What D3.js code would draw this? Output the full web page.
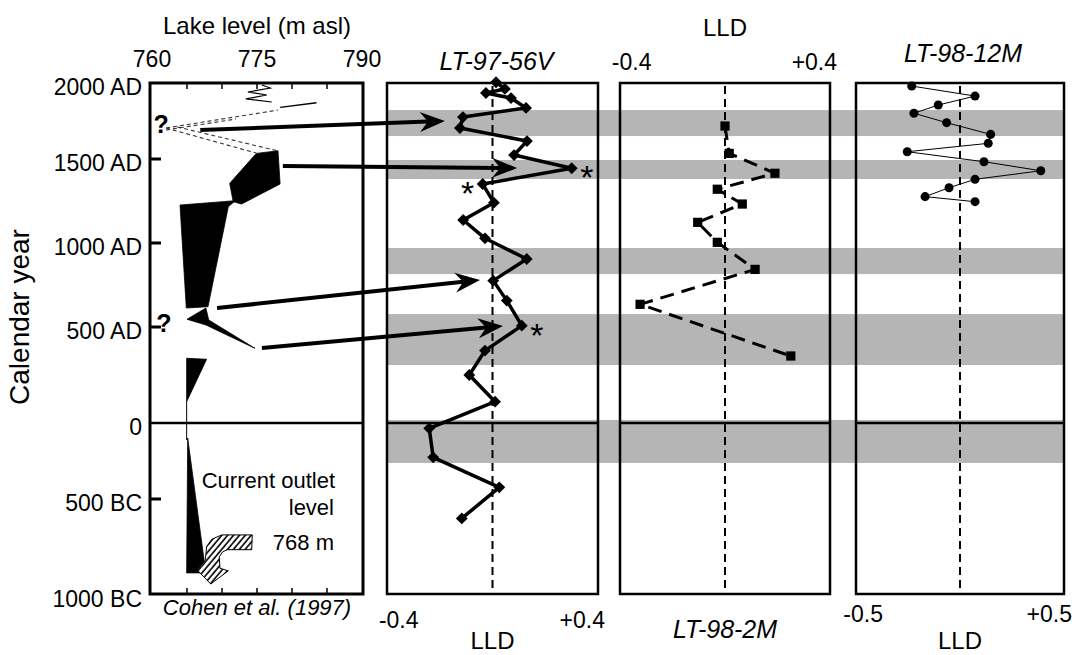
<!DOCTYPE html>
<html><head><meta charset="utf-8">
<script src="https://cdn.jsdelivr.net/npm/d3@7"></script>
<style>
body{margin:0;background:#fff;}
svg{display:block;font-family:"Liberation Sans",Arial,Helvetica,sans-serif;}
</style></head><body>
<svg id="chart" width="1074" height="655"></svg>
<script>
// ---- Calendar-year axis (negative years = BC) ----
const yearTicks = [2000, 1500, 1000, 500, 0, -500, -1000];
const yearTickLabels = ["2000 AD", "1500 AD", "1000 AD", "500 AD", "0", "500 BC", "1000 BC"];

// ---- Lake level reconstruction (Cohen et al. 1997): [level m asl, year] ----
const lakeTicks = [760, 775, 790];
const lakeMinorTicks = [765, 770, 775, 780, 785];
const levelBlockA = [[774.9, 1537], [778.0, 1554], [778.3, 1351], [772.8, 1232], [771.6, 1246], [771.1, 1355]];
const levelBlockB = [[764.0, 1226], [771.9, 1252], [770.9, 1216], [768.0, 621], [764.9, 613]];
const levelSpike = [[767.7, 613], [765.0, 546], [767.7, 512], [774.7, 389], [768.1, 542]];
const levelWedgeAD = [[764.95, 337], [767.8, 332], [764.95, 111]];
const levelWedgeBC = [[765.1, -99], [767.6, -862], [767.2, -885], [764.95, -885]];
const levelStem = [[764.95, 111], [764.95, -112]];
const levelRecent = [[775.7, 1987], [776.9, 1967], [773.7, 1941], [776.4, 1921], [773.4, 1895], [777.1, 1875]];
const levelRecentTail = [[778.3, 1840], [783.5, 1870]];
const levelUncertain = [
  [[762.0, 1704], [778.0, 1822]],
  [[762.0, 1691], [772.0, 1763]],
  [[762.0, 1704], [774.9, 1539]],
  [[763.6, 1711], [778.0, 1553]]
];
const outletArrow = [[774.33, -687], [769.96, -687], [768.53, -710], [767.81, -748], [767.61, -818],
  [766.47, -870], [768.39, -943], [770.9, -874], [769.71, -861], [769.61, -801], [770.1, -775],
  [770.76, -764], [774.24, -764]];
const questionMarks = [[761.3, 1730], [761.7, 525]];

// ---- Low-lake-level (LLD) intervals shaded across the core panels: [start, end] years ----
const droughtBands = [[1822, 1651], [1494, 1381], [970, 815], [577, 302], [16, -263]];

// ---- LT-97-56V ----
const core56Years = [2005, 1961, 1934, 1901, 1836, 1776, 1704, 1618, 1526, 1445, 1351, 1240, 1137, 1028,
  905, 776, 657, 508, 377, 250, 111, -35, -226, -423, -601];
const core56LLD = [0.015, 0.053, -0.028, 0.079, 0.143, -0.126, -0.139, 0.147, 0.092, 0.338, -0.042, 0.006,
  -0.125, -0.032, 0.146, 0.003, 0.061, 0.125, -0.032, -0.099, 0.011, -0.270, -0.253, 0.029, -0.131];
const core56Starred = [[9, 1], [10, -1], [17, 1]];  // [point index, side]

// ---- LT-98-2M ----
const core2Years = [1717, 1537, 1415, 1320, 1232, 1123, 1004, 843, 635, 349];
const core2LLD = [0.0, 0.018, 0.214, -0.033, 0.074, -0.117, -0.033, 0.129, -0.364, 0.282];

// ---- LT-98-12M ----
const core12Years = [1980, 1914, 1855, 1801, 1739, 1662, 1603, 1548, 1484, 1430, 1379, 1329, 1276, 1246];
const core12LLD = [-0.260, 0.081, -0.117, -0.248, -0.072, 0.165, 0.152, -0.284, 0.129, 0.435, 0.081,
  -0.059, -0.188, 0.081];

// ---- Correlation arrows: lake level [level, year] -> LT-97-56V [LLD, year] ----
const links = [
  {from: [766.9, 1691], to: [-0.203, 1750]},
  {from: [778.7, 1458], to: [0.105, 1446]},
  {from: [769.3, 613], to: [-0.053, 780]},
  {from: [775.7, 391], to: [0.045, 506]}
];

// ===================== drawing =====================
const svg = d3.select("#chart");
const TOP = 83, BOT = 594;
const y = d3.scaleLinear().domain(yearTicks).range([83, 159, 243, 327, 423, 499, 595]);
const lakeX = d3.scaleLinear().domain([760, 790]).range([152, 362]);
const x56 = d3.scaleLinear().domain([-0.45, 0.45]).range([387, 598]);
const x2 = d3.scaleLinear().domain([-0.45, 0.45]).range([620, 830]);
const x12 = d3.scaleLinear().domain([-0.56, 0.56]).range([856, 1064]);

const defs = svg.append("defs");
const pat = defs.append("pattern").attr("id", "hatch").attr("patternUnits", "userSpaceOnUse")
  .attr("width", 4.5).attr("height", 4.5).attr("patternTransform", "rotate(40)");
pat.append("rect").attr("width", 4.5).attr("height", 4.5).attr("fill", "#fff");
pat.append("line").attr("x1", 1).attr("y1", 0).attr("x2", 1).attr("y2", 4.5)
  .attr("stroke", "#000").attr("stroke-width", 1.6);

// shaded bands
svg.append("g").selectAll("rect").data(droughtBands).join("rect")
  .attr("x", x56.range()[0]).attr("width", x12.range()[1] - x56.range()[0])
  .attr("y", d => y(d[0])).attr("height", d => y(d[1]) - y(d[0]))
  .attr("fill", "#b5b5b5");

// ---------- Panel 1: lake level ----------
const p1 = svg.append("g");
const lvl = d3.line().x(d => lakeX(d[0])).y(d => y(d[1]));
[levelBlockA, levelBlockB, levelSpike, levelWedgeAD, levelWedgeBC].forEach(poly => {
  p1.append("path").attr("d", lvl(poly) + "Z").attr("fill", "#000").attr("stroke", "#000").attr("stroke-width", 0.8);
});
p1.append("path").attr("d", lvl(levelStem)).attr("stroke", "#000").attr("stroke-width", 1).attr("fill", "none");
p1.append("path").attr("d", lvl(levelRecent)).attr("stroke", "#000").attr("stroke-width", 1.2).attr("fill", "none");
p1.append("path").attr("d", lvl(levelRecentTail)).attr("stroke", "#000").attr("stroke-width", 1.4).attr("fill", "none");
levelUncertain.forEach(seg => {
  p1.append("path").attr("d", lvl(seg)).attr("stroke", "#333").attr("stroke-width", 1.1)
    .attr("stroke-dasharray", "4,3").attr("fill", "none");
});
p1.append("path").attr("d", lvl(outletArrow) + "Z").attr("fill", "url(#hatch)")
  .attr("stroke", "#000").attr("stroke-width", 1);

// frame and ticks
p1.append("rect").attr("x", 150).attr("y", TOP).attr("width", 213).attr("height", BOT - TOP)
  .attr("fill", "none").attr("stroke", "#000").attr("stroke-width", 3);
p1.append("line").attr("x1", 150).attr("x2", 363).attr("y1", y(0)).attr("y2", y(0))
  .attr("stroke", "#000").attr("stroke-width", 2.5);
p1.selectAll(".mt").data(lakeMinorTicks).join("g").each(function (v) {
  const g = d3.select(this);
  g.append("line").attr("x1", lakeX(v)).attr("x2", lakeX(v)).attr("y1", TOP).attr("y2", TOP + 6)
    .attr("stroke", "#000").attr("stroke-width", 1.5);
  g.append("line").attr("x1", lakeX(v)).attr("x2", lakeX(v)).attr("y1", BOT).attr("y2", BOT - 6)
    .attr("stroke", "#000").attr("stroke-width", 1.5);
});
p1.selectAll(".yt").data([1500, 1000, 500, -500]).join("line")
  .attr("x1", 150).attr("x2", 161).attr("y1", d => y(d)).attr("y2", d => y(d))
  .attr("stroke", "#000").attr("stroke-width", 3);
p1.selectAll(".yl").data(yearTicks).join("text")
  .attr("x", 142).attr("y", d => y(d) + 12).attr("text-anchor", "end")
  .attr("font-size", 23).text((d, i) => yearTickLabels[i]);
p1.selectAll(".xl").data(lakeTicks).join("text")
  .attr("x", d => lakeX(d)).attr("y", 67).attr("text-anchor", "middle")
  .attr("font-size", 23).text(d => d);
p1.append("text").attr("x", 257).attr("y", 34).attr("text-anchor", "middle").attr("font-size", 24)
  .text("Lake level (m asl)");
p1.append("text").attr("transform", "translate(29,317) rotate(-90)").attr("text-anchor", "middle")
  .attr("font-size", 28).text("Calendar year");
p1.append("text").attr("x", 257).attr("y", 615).attr("text-anchor", "middle").attr("font-size", 22)
  .attr("font-style", "italic").text("Cohen et al. (1997)");
p1.selectAll(".q").data(questionMarks).join("text")
  .attr("x", d => lakeX(d[0])).attr("y", d => y(d[1]) + 9).attr("text-anchor", "middle")
  .attr("font-size", 25).attr("font-weight", "bold").text("?");
const note = p1.append("g").attr("font-size", 22).attr("text-anchor", "end");
note.append("text").attr("x", 335).attr("y", 488).text("Current outlet");
note.append("text").attr("x", 334).attr("y", 515).text("level");
note.append("text").attr("x", 334).attr("y", 550).text("768 m");

// ---------- Core panels ----------
function panel(xs, years, vals, opts) {
  const g = svg.append("g");
  const [x0, x1] = xs.range();
  g.append("line").attr("x1", x0).attr("x2", x1).attr("y1", y(0)).attr("y2", y(0))
    .attr("stroke", "#000").attr("stroke-width", 2.5);
  g.append("line").attr("x1", xs(0)).attr("x2", xs(0)).attr("y1", TOP + 3).attr("y2", BOT - 6)
    .attr("stroke", "#000").attr("stroke-width", 2).attr("stroke-dasharray", "8,5");
  g.append("rect").attr("x", x0).attr("y", TOP).attr("width", x1 - x0).attr("height", BOT - TOP)
    .attr("fill", "none").attr("stroke", "#000").attr("stroke-width", 2.5);
  const pts = years.map((yr, i) => [xs(vals[i]), y(yr)]);
  g.append("path").attr("d", d3.line()(pts)).attr("fill", "none").attr("stroke", "#000")
    .attr("stroke-width", opts.lw).attr("stroke-dasharray", opts.dash || null)
    .attr("stroke-linejoin", "round");
  g.selectAll(".m").data(pts).join("path")
    .attr("transform", d => `translate(${d[0]},${d[1]}) rotate(${opts.rot || 0})`)
    .attr("d", d3.symbol().type(opts.sym).size(opts.size)).attr("fill", "#000");
  return {g, pts};
}
function ticks(g, xs, vals, yb) {
  g.selectAll(".tl").data(vals).join("text")
    .attr("x", d => xs(d) + (d > 0 ? -4 : 0)).attr("y", yb)
    .attr("text-anchor", "middle").attr("font-size", 23)
    .text(d => (d > 0 ? "+" : "") + d);
}

const a = panel(x56, core56Years, core56LLD, {lw: 3.5, sym: d3.symbolSquare, size: 70, rot: 45});
ticks(a.g, x56, [-0.4, 0.4], 628);
a.g.append("text").attr("x", x56(0)).attr("y", 649).attr("text-anchor", "middle").attr("font-size", 24).text("LLD");
a.g.append("text").attr("x", x56(0) + 4).attr("y", 70).attr("text-anchor", "middle").attr("font-size", 25)
  .attr("font-style", "italic").text("LT-97-56V");
a.g.selectAll(".star").data(core56Starred).join("text")
  .attr("x", d => a.pts[d[0]][0] + d[1] * 15).attr("y", d => a.pts[d[0]][1] + 21)
  .attr("text-anchor", "middle").attr("font-size", 34).text("*");

const b = panel(x2, core2Years, core2LLD, {lw: 3, dash: "14,8", sym: d3.symbolSquare, size: 85});
ticks(b.g, x2, [-0.4, 0.4], 70);
b.g.append("text").attr("x", x2(0)).attr("y", 36).attr("text-anchor", "middle").attr("font-size", 24).text("LLD");
b.g.append("text").attr("x", x2(0)).attr("y", 638).attr("text-anchor", "middle").attr("font-size", 25)
  .attr("font-style", "italic").text("LT-98-2M");

const c = panel(x12, core12Years, core12LLD, {lw: 1, sym: d3.symbolCircle, size: 64});
c.g.selectAll(".tl").data([-0.5, 0.5]).join("text")
  .attr("x", d => d > 0 ? 1072 : x12(d) - 4).attr("y", 622)
  .attr("text-anchor", d => d > 0 ? "end" : "middle").attr("font-size", 23)
  .text(d => (d > 0 ? "+" : "") + d);
c.g.append("text").attr("x", x12(0)).attr("y", 649).attr("text-anchor", "middle").attr("font-size", 24).text("LLD");
c.g.append("text").attr("x", x12(0) + 3).attr("y", 62).attr("text-anchor", "middle").attr("font-size", 25)
  .attr("font-style", "italic").text("LT-98-12M");

// ---------- Correlation arrows ----------
const ar = svg.append("g");
links.forEach(l => {
  const sx = lakeX(l.from[0]), sy = y(l.from[1]);
  const tx = x56(l.to[0]), ty = y(l.to[1]);
  const ang = Math.atan2(ty - sy, tx - sx), ux = Math.cos(ang), uy = Math.sin(ang);
  const nx = -uy, ny = ux, L = 25, W = 10, N = 8;
  const bx = tx - L * ux, by = ty - L * uy;
  const kx = tx - (L - N) * ux, ky = ty - (L - N) * uy;
  ar.append("line").attr("x1", sx).attr("y1", sy).attr("x2", kx).attr("y2", ky)
    .attr("stroke", "#000").attr("stroke-width", 4);
  ar.append("path").attr("d", d3.line()([[tx, ty], [bx + W * nx, by + W * ny], [kx, ky], [bx - W * nx, by - W * ny]]) + "Z")
    .attr("fill", "#000");
});
</script>
</body></html>
